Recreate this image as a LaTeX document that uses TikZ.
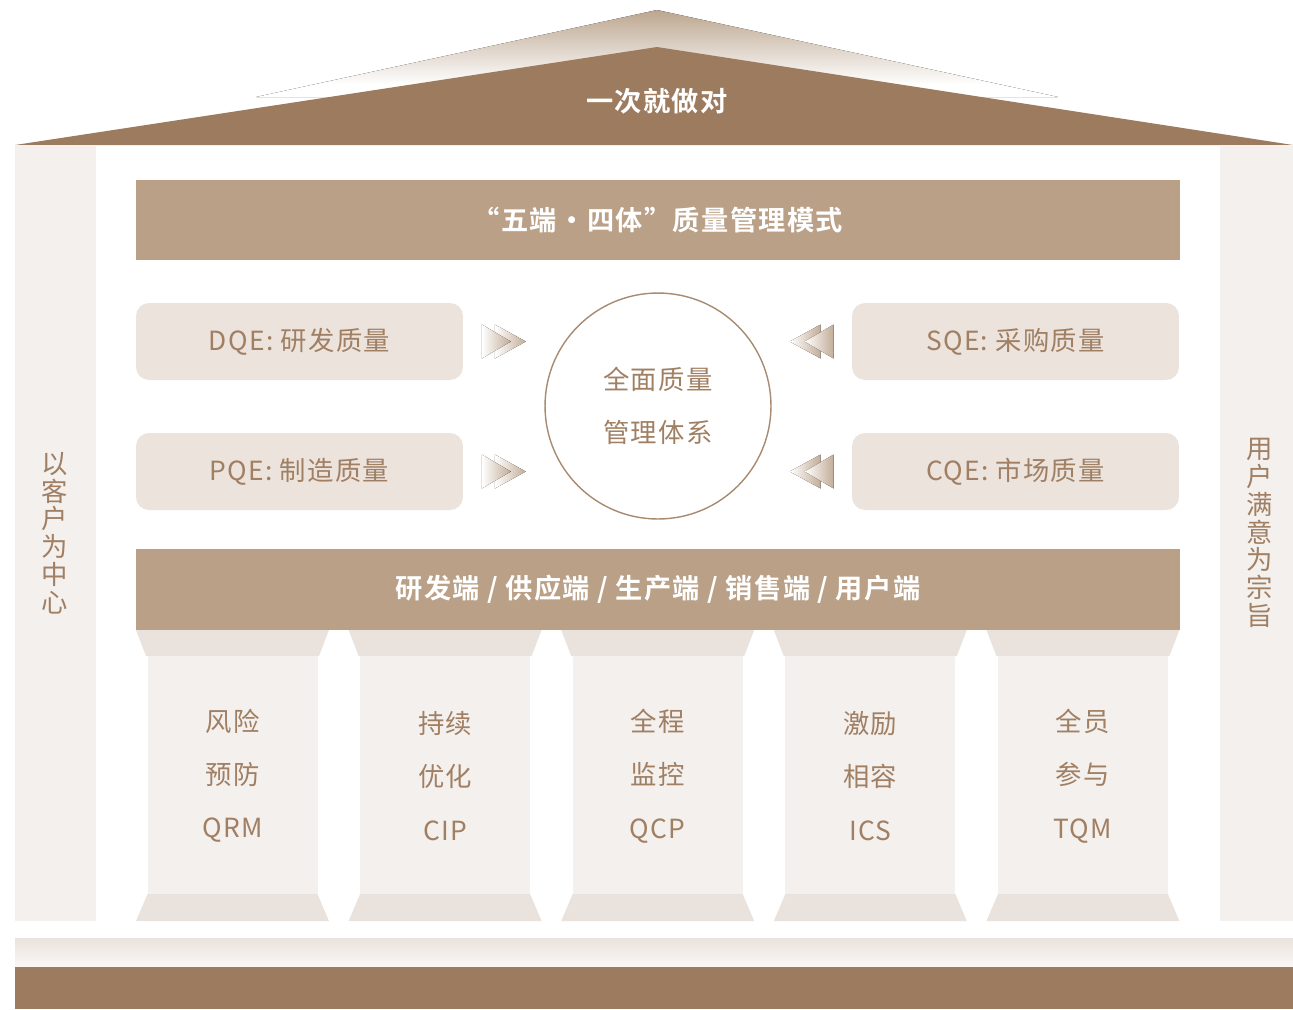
\documentclass[tikz,border=0pt]{standalone}
\usepackage{fontspec}
\setmainfont{Noto Sans CJK SC}[BoldFont={Noto Sans CJK SC Bold}, LetterSpace=5]
\usetikzlibrary{calc,positioning}
\definecolor{roofbrown}{HTML}{9C7B5E}
\definecolor{rooftop}{HTML}{BCA68F}
\definecolor{bandtan}{HTML}{B9A087}
\definecolor{boxgray}{HTML}{EBE3DC}
\definecolor{pale}{HTML}{F4F0ED}
\definecolor{capgray}{HTML}{EAE3DD}
\definecolor{inkbrown}{HTML}{A07F63}
\definecolor{ringbrown}{HTML}{A88A70}
\definecolor{chevtan}{HTML}{C2AC97}
\pgfdeclareverticalshading{rooffade}{100bp}{color(0bp)=(white); color(32bp)=(white); color(75bp)=(rooftop); color(100bp)=(rooftop)}
\tikzset{
    bigtext/.style={font=\fontsize{15.5}{18}\selectfont\bfseries, text=white},
    smalltext/.style={font=\fontsize{15}{18}\selectfont, text=inkbrown},
    band/.style={fill=bandtan, minimum width=20.88cm, minimum height=1.6cm, inner sep=0pt, bigtext},
    qebox/.style={fill=boxgray, rounded corners=0.26cm, minimum width=6.54cm, minimum height=1.54cm, inner sep=0pt, smalltext},
    sidetext/.style={smalltext, align=center, font=\fontsize{15}{15.8}\selectfont},
    coltext/.style={smalltext, align=center, font=\fontsize{15}{30.3}\selectfont},
    fastfwd/.pic={
        \fill[left color=white, right color=chevtan] (-9,-17) -- (22,0) -- (-9,17) -- cycle;
        \fill[left color=white, right color=chevtan] (-22,-17) -- (7,0) -- (-22,17) -- cycle;
    },
}
\begin{document}
\begin{tikzpicture}[x=0.02cm, y=-0.02cm]
    \useasboundingbox (0,0) rectangle (1293,1009);
    % roof
    \fill[shading=rooffade] (657,10) -- (1058,97) -- (256,97) -- cycle;
    \fill[roofbrown] (657,47) -- (1293,145) -- (15,145) -- cycle;
    \node[bigtext] (motto) at (657,101) {一次就做对};
    % side columns
    \fill[pale] (15,145) rectangle (96,921);
    \fill[pale] (1220,145) rectangle (1293,921);
    \node[sidetext] (leftcol) at (55,533) {以\\客\\户\\为\\中\\心};
    \node[sidetext] (rightcol) at (1260,533) {用\\户\\满\\意\\为\\宗\\旨};

    \node[band] (mode) at (658,220) {“五端・四体”质量管理模式};
    \node[qebox] (dqe) at (299.5,341.5) {DQE: 研发质量};
    \node[qebox] (pqe) at (299.5,471.5) {PQE: 制造质量};
    \node[qebox] (sqe) at (1015.5,341.5) {SQE: 采购质量};
    \node[qebox] (cqe) at (1015.5,471.5) {CQE: 市场质量};
    \node[circle, draw=ringbrown, line width=0.8pt, minimum size=4.52cm, smalltext, align=center,
          font=\fontsize{15}{30}\selectfont] (core) at (658,406) {全面质量\\管理体系};
    \foreach \n in {dqe,pqe}
        \pic at ($(\n.east)!0.5!(\n.east -| core.west)$) {fastfwd};
    \foreach \n in {sqe,cqe}
        \pic[xscale=-1] at ($(\n.west)!0.5!(\n.west -| core.east)$) {fastfwd};

    \node[band, minimum height=1.62cm] (ends) at (658,589.5) {研发端 / 供应端 / 生产端 / 销售端 / 用户端};
    % pillars
    \foreach \a/\b/\c [count=\i from 0] in {风险/预防/QRM, 持续/优化/CIP, 全程/监控/QCP, 激励/相容/ICS, 全员/参与/TQM} {
        \pgfmathsetmacro\cx{232.5+212.6*\i}
        \fill[capgray] (\cx-96.5,630) -- (\cx+96.5,630) -- (\cx+86.5,656) -- (\cx-86.5,656) -- cycle;
        \fill[pale] (\cx-85,656) rectangle (\cx+85,894);
        \fill[capgray] (\cx-85,894) -- (\cx+85,894) -- (\cx+96.5,921) -- (\cx-96.5,921) -- cycle;
        \node[coltext] (col\i) at (\cx,776) {\a\\\b\\\c};
    }
    % base
    \fill[top color=capgray, bottom color=pale!60!white] (15,938) rectangle (1293,966);
    \fill[roofbrown] (15,967) rectangle (1293,1009);
\end{tikzpicture}
\end{document}
